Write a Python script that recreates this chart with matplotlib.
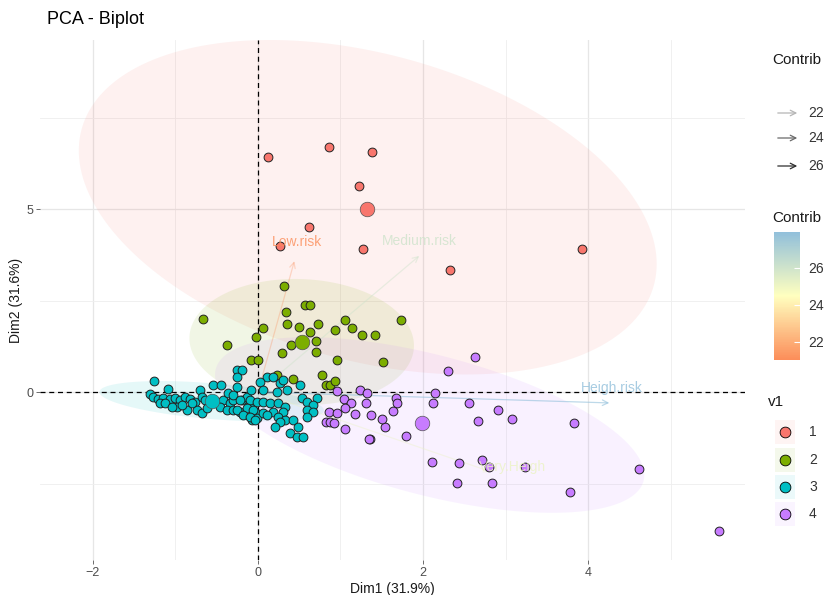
import numpy as np
import matplotlib
matplotlib.use("Agg")
import matplotlib.pyplot as plt
from matplotlib.colors import LinearSegmentedColormap, Normalize
from matplotlib.colorbar import ColorbarBase

plt.rcParams['font.family'] = ['Liberation Sans', 'DejaVu Sans']

# individus par groupe (Dim1, Dim2)
g1_x = [0.12, 0.86, 1.38, 1.22, 0.62, 0.27, 1.27, 2.33, 3.93]
g1_y = [6.42, 6.69, 6.56, 5.63, 4.51, 3.99, 3.91, 3.33, 3.91]

g2_x = [-0.67, 0.32, 0.57, 0.63, 0.34, 0.35, 0.50, 0.73, 0.06, 0.63, -0.02, 1.05, 1.14,
        0.93, 1.73, 1.26, 1.42, 0.40, 0.70, 0.29, 0.70, 0.96, 1.52, -0.08, 0.00, -0.38,
        0.23, 0.42, 0.78, 0.82, 0.87, 0.93]
g2_y = [1.99, 2.90, 2.38, 2.38, 2.19, 1.86, 1.78, 1.86, 1.75, 1.64, 1.50, 1.97, 1.75,
        1.69, 1.97, 1.56, 1.56, 1.28, 1.39, 1.07, 1.09, 0.87, 0.82, 0.87, 0.87, 1.28,
        0.46, 0.36, 0.46, 0.19, 0.19, 0.30]

g3_x = [-1.26, -1.09, -1.31, -1.27, -1.21, -1.15, -1.07, -1.01, -0.95, -0.88, -0.82, -0.76,
        -0.70, -0.68, -0.64, -0.55, -0.45, -0.50, -0.42, -0.36, -0.34, -0.30, -0.25, -0.19,
        -0.25, -0.19, -0.13, -0.10, -0.98, -0.86, -0.74, -0.68, -0.62, -0.22, -0.04, -0.07,
        -0.01, -1.19, -1.13, -1.04, -0.92, -0.80, -0.46, -0.38, -0.30, -0.25, 0.11, 0.18,
        0.02, 0.27, 0.30, 0.51, -0.08, 0.06, 0.23, 0.35, -0.30, -0.22, -0.10, -0.01, 0.06,
        0.15, 0.24, 0.33, 0.53, 0.59, 0.72, 0.67, -0.25, -0.13, -0.06, 0.06, 0.18, 0.30,
        -0.18, -0.10, -0.04, 0.11, 0.24, 0.33, 0.59, 0.67, 0.59, 0.27, 0.42, 0.21, 0.48,
        0.39, 0.47, 0.55]
g3_y = [0.30, 0.08, -0.05, -0.14, -0.19, -0.16, -0.19, -0.16, -0.22, -0.14, -0.19, -0.27,
        0.05, -0.14, -0.22, 0.19, 0.19, -0.27, -0.22, -0.03, -0.30, -0.22, 0.60, 0.60,
        0.14, -0.22, -0.14, -0.30, -0.41, -0.49, -0.49, -0.57, -0.44, -0.55, -0.55, -0.77,
        -0.71, -0.30, -0.30, -0.41, -0.36, -0.30, -0.41, -0.49, -0.49, 0.41, 0.41, 0.41,
        0.27, 0.25, 0.33, 0.19, 0.05, 0.05, 0.00, 0.05, -0.08, -0.22, -0.22, -0.27, -0.27,
        -0.30, -0.30, -0.41, -0.16, -0.27, -0.16, -0.36, -0.49, -0.44, -0.49, -0.57, -0.55,
        -0.55, -0.63, -0.68, -0.77, -0.63, -0.68, -0.77, -0.49, -0.55, -0.68, -0.82, -0.77,
        -0.96, -0.96, -1.12, -1.23, -1.23]

g4_x = [2.63, 2.30, 1.67, 1.68, 1.64, 2.15, 2.12, 2.56, 2.91, 3.08, 2.67, 3.83, 1.54, 1.50,
        1.36, 1.79, 2.11, 2.44, 2.72, 2.80, 3.24, 4.62, 2.41, 2.84, 3.78, 5.58, 0.96, 1.24,
        1.32, 1.04, 1.13, 1.31, 0.86, 0.96, 1.05, 1.18, 1.37, 0.82, 0.87, 0.92, 1.05, 1.35]
g4_y = [0.96, 0.57, -0.16, -0.30, -0.52, -0.03, -0.30, -0.30, -0.49, -0.74, -0.79, -0.85,
        -0.96, -0.74, -1.28, -1.20, -1.91, -1.94, -1.86, -2.05, -2.05, -2.10, -2.49, -2.49,
        -2.73, -3.80, 0.03, 0.05, -0.03, -0.19, -0.30, -0.30, -0.55, -0.57, -0.44, -0.60,
        -0.63, -0.82, -0.82, -0.85, -1.01, -1.28]

# centres des groupes
centre_x = [1.32, 0.53, -0.56, 1.99]
centre_y = [5.00, 1.37, -0.25, -0.85]

# ellipses : centre, demi-largeur, demi-hauteur, decalage y du point le plus a droite
ell_cx = [1.33, 0.53, -0.56, 2.08]
ell_cy = [5.05, 1.37, -0.25, -0.90]
ell_w = [3.50, 1.36, 1.36, 2.60]
ell_h = [4.57, 1.72, 0.55, 2.40]
ell_dy = [-1.55, -0.10, -0.25, -1.37]

groupes = ["1", "2", "3", "4"]
couleurs = ["#F8766D", "#7CAE00", "#00BFC4", "#C77CFF"]

# variables
var_noms = ["Low.risk", "Medium.risk", "Heigh.risk", "Very.Heigh"]
var_x = [0.45, 1.98, 4.29, 2.85]
var_y = [3.65, 3.77, -0.30, -2.20]
lab_x = [0.47, 1.96, 4.29, 3.08]
lab_y = [4.10, 4.13, 0.11, -2.05]
var_contrib = [21.0, 26.0, 27.9, 25.1]


def main():
    fig = plt.figure(figsize=(8.28, 5.95), dpi=100)
    ax = fig.add_axes([40 / 828, 1 - 560 / 595, 705 / 828, 520 / 595])

    cmap = LinearSegmentedColormap.from_list("contrib", ["#FC8D59", "#FFFFBF", "#91BFDB"])
    norm = Normalize(vmin=21.0, vmax=27.95)

    # grille
    ax.set_xlim(-2.64, 5.90)
    ax.set_ylim(-4.59, 9.62)
    ax.set_xticks([-2, 0, 2, 4])
    ax.set_xticks([-1, 1, 3, 5], minor=True)
    ax.set_yticks([0, 5])
    ax.set_yticks([-2.5, 2.5, 7.5], minor=True)
    ax.grid(True, which="major", color="#e6e6e6", lw=0.9)
    ax.grid(True, which="minor", color="#eeeeee", lw=0.6)
    ax.set_axisbelow(True)
    for s in ax.spines.values():
        s.set_visible(False)
    ax.tick_params(which="major", length=3, width=0.6, color="#555555",
                   labelsize=9, labelcolor="#4d4d4d", pad=2)
    ax.tick_params(which="minor", length=0)

    # ellipses
    t = np.linspace(0, 2 * np.pi, 200)
    for i in range(4):
        ex = ell_cx[i] + ell_w[i] * np.cos(t)
        ey = ell_cy[i] + ell_dy[i] * np.cos(t) + np.sqrt(ell_h[i] ** 2 - ell_dy[i] ** 2) * np.sin(t)
        ax.fill(ex, ey, color=couleurs[i], alpha=0.1, lw=0, zorder=1)

    ax.axhline(0, color="black", ls=(0, (4, 3)), lw=0.9, zorder=2)
    ax.axvline(0, color="black", ls=(0, (4, 3)), lw=0.9, zorder=2)

    # points
    gx = [g1_x, g2_x, g3_x, g4_x]
    gy = [g1_y, g2_y, g3_y, g4_y]
    for i in range(4):
        ax.scatter(gx[i], gy[i], s=40, c=couleurs[i], edgecolors="#222222", linewidths=0.7, zorder=3)
        ax.scatter(centre_x[i], centre_y[i], s=110, c=couleurs[i], edgecolors="#555555",
                   linewidths=0.5, zorder=4)

    # fleches des variables
    alphas = [0.3, 0.45, 0.6, 0.4]
    for i in range(4):
        col = cmap(norm(var_contrib[i]))
        ax.annotate("", xy=(var_x[i], var_y[i]), xytext=(0, 0),
                    arrowprops=dict(arrowstyle="->", color=col, lw=0.9, alpha=alphas[i],
                                    mutation_scale=10), zorder=2.5)
        ax.text(lab_x[i], lab_y[i], var_noms[i], color=col, alpha=0.8, fontsize=10,
                ha="center", va="center", zorder=5)

    ax.set_xlabel("Dim1 (31.9%)", fontsize=10, color="#1a1a1a", labelpad=2)
    ax.set_ylabel("Dim2 (31.6%)", fontsize=10, color="#1a1a1a", labelpad=2)
    fig.text(47 / 828, 1 - 20 / 595, "PCA - Biplot", fontsize=13, ha="left", va="center")

    # legendes (coordonnees pixels)
    lg = fig.add_axes([0, 0, 1, 1])
    lg.set_xlim(0, 828)
    lg.set_ylim(595, 0)
    lg.axis("off")
    lg.patch.set_alpha(0)

    lg.text(772, 60, "Contrib", fontsize=11, ha="left", va="center", color="#1a1a1a")
    gris = ["#b5b5b5", "#6a6a6a", "#2e2e2e"]
    for k, v in enumerate([22, 24, 26]):
        yy = [113, 138, 166][k]
        lg.annotate("", xy=(800, yy), xytext=(775, yy),
                    arrowprops=dict(arrowstyle="->", color=gris[k], lw=0.9, mutation_scale=10))
        lg.text(808, yy, str(v), fontsize=10, ha="left", va="center", color="#333333")

    lg.text(772, 218, "Contrib", fontsize=11, ha="left", va="center", color="#1a1a1a")
    cax = fig.add_axes([774 / 828, 1 - 360 / 595, 26 / 828, 128 / 595])
    cb = ColorbarBase(cax, cmap=cmap, norm=norm, orientation="vertical")
    cb.set_ticks([22, 24, 26])
    cb.outline.set_visible(False)
    cax.tick_params(length=4, width=0.8, color="white", labelsize=10, labelcolor="#333333",
                    direction="in", pad=6)

    lg.text(768, 402, "v1", fontsize=11, ha="left", va="center", color="#1a1a1a")
    for k in range(4):
        yy = [432, 460, 487, 514][k]
        lg.add_patch(plt.Rectangle((775, yy - 12), 20, 24, color=couleurs[k], alpha=0.08, lw=0))
        lg.scatter(785, yy, s=60, c=couleurs[k], edgecolors="black", linewidths=0.6)
        lg.text(809, yy, groupes[k], fontsize=10, ha="left", va="center", color="#333333")

    fig.savefig("out.png", dpi=100)


if __name__ == "__main__":
    main()
